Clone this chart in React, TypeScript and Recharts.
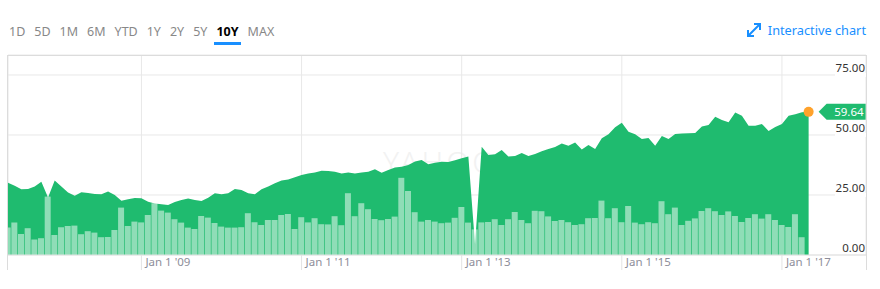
import { Area, Bar, CartesianGrid, ComposedChart, ReferenceDot, XAxis, YAxis } from 'recharts'

const ranges = ['1D', '5D', '1M', '6M', 'YTD', '1Y', '2Y', '5Y', '10Y', 'MAX']
const activeRange = '10Y'

// monthly points, first one is May 2007
const firstYear = 2007
const firstMonth = 4

const closes = [
  30.1, 28.9, 27.4, 27.5, 28.5, 30.5, 24.0, 31.0, 28.5, 26.0,
  24.7, 26.1, 25.8, 25.4, 25.3, 26.5, 25.0, 22.6, 23.2, 23.8,
  23.6, 22.2, 21.5, 21.1, 20.8, 22.1, 22.9, 23.5, 22.9, 22.5,
  23.9, 25.7, 25.3, 25.7, 27.5, 27.1, 25.7, 25.3, 27.4, 28.5,
  29.9, 31.0, 31.5, 32.4, 33.3, 34.0, 34.4, 35.1, 35.0, 34.7,
  34.0, 34.4, 34.0, 34.4, 34.7, 35.7, 34.3, 35.4, 36.5, 36.8,
  37.5, 39.0, 39.6, 37.8, 38.4, 38.9, 38.8, 39.5, 40.3, 41.0,
  4.5, 45.1, 41.7, 42.0, 43.8, 41.0, 41.2, 42.5, 41.2, 42.1,
  43.2, 44.2, 45.0, 46.5, 45.5, 46.9, 44.0, 45.8, 44.2, 48.6,
  50.3, 53.2, 55.1, 51.4, 50.3, 48.3, 48.8, 45.5, 49.6, 48.3,
  50.4, 50.6, 50.7, 50.8, 53.5, 54.2, 57.6, 56.3, 55.3, 59.4,
  58.0, 53.9, 53.9, 54.6, 51.7, 53.3, 54.6, 58.0, 58.6, 59.5,
  59.64,
]

// volume in millions of shares
const volumes = [
  13.7, 16.2, 10.5, 13.4, 7.7, 8.4, 29.2, 10.0, 13.9, 14.5,
  14.7, 10.4, 11.9, 11.2, 8.9, 9.0, 12.5, 23.7, 14.5, 16.7,
  16.3, 20.0, 25.9, 22.2, 21.2, 17.9, 16.2, 13.7, 13.0, 19.5,
  18.7, 16.0, 14.2, 13.7, 13.7, 13.9, 20.9, 16.4, 15.0, 17.5,
  17.5, 20.0, 20.5, 13.0, 18.9, 16.3, 18.4, 15.4, 15.3, 19.4,
  14.9, 30.9, 19.4, 25.9, 22.9, 18.0, 17.4, 18.0, 19.2, 38.6,
  32.0, 21.4, 16.7, 17.5, 16.7, 15.9, 16.2, 18.6, 24.0, 16.2,
  12.8, 16.3, 16.5, 17.9, 15.0, 17.9, 21.5, 17.5, 15.9, 22.1,
  21.9, 19.3, 17.0, 17.5, 16.4, 15.0, 15.4, 18.4, 18.5, 27.2,
  18.4, 23.4, 16.4, 24.5, 16.2, 15.4, 16.4, 15.9, 26.9, 20.4,
  23.7, 15.0, 17.1, 18.3, 22.0, 23.4, 21.9, 20.0, 21.8, 19.5,
  16.5, 18.5, 20.4, 18.2, 20.4, 17.5, 15.0, 14.0, 20.4, 8.9,
]

const tickYears = [2009, 2011, 2013, 2015, 2017]
const priceTicks = [0, 25, 50, 75]

const GREEN = '#1fbb6f'
const BLUE = '#188fff'

const monthIndex = (year: number) => (year - firstYear) * 12 - firstMonth
const rows = closes.map((price, i) => ({ i, price, volume: volumes[i] }))
const lastIndex = closes.length - 1
const lastClose = closes[lastIndex]

function DateTick({ x, y, payload }: any) {
  const year = tickYears.find((yr) => monthIndex(yr) === payload.value) ?? 0
  return (
    <g>
      <line x1={x} x2={x} y1={y} y2={y + 15} stroke="#e3e3e3" />
      <text x={x + 4} y={y + 11} fill="#8e8e9a" fontSize={11.5}>
        {`Jan 1 '${String(year).slice(2)}`}
      </text>
    </g>
  )
}

function PriceTick({ x, y, payload }: any) {
  return (
    <g>
      {payload.value > 0 && <rect x={x - 30} y={y - 2} width={31} height={4} fill="#fff" />}
      <text x={x} y={y - 3} textAnchor="end" fill="#333" fontSize={11.5}>
        {payload.value.toFixed(2)}
      </text>
    </g>
  )
}

function LastPrice({ cx, cy }: any) {
  return (
    <g>
      <polygon
        points={`${cx + 10},${cy} ${cx + 18},${cy - 8} ${cx + 57},${cy - 8} ${cx + 57},${cy + 8} ${cx + 18},${cy + 8}`}
        fill={GREEN}
      />
      <text x={cx + 55} y={cy + 4} textAnchor="end" fill="#fff" fontSize={11.5}>
        {lastClose.toFixed(2)}
      </text>
      <circle cx={cx} cy={cy} r={5} fill="#ffa22b" />
    </g>
  )
}

export default function App() {
  return (
    <div
      style={{
        position: 'absolute',
        left: 0,
        top: 0,
        width: 880,
        height: 289,
        overflow: 'hidden',
        background: '#fff',
        fontFamily: '"Noto Sans", sans-serif',
      }}
    >
      <div style={{ position: 'absolute', left: 9, top: 23, display: 'flex', gap: 9, fontSize: 12.5, lineHeight: '18px', color: '#888' }}>
        {ranges.map((r) => (
          <span
            key={r}
            style={{
              position: 'relative',
              color: r === activeRange ? '#000' : undefined,
              fontWeight: r === activeRange ? 700 : 400,
            }}
          >
            {r}
            {r === activeRange && (
              <span style={{ position: 'absolute', left: -2, right: -2, top: 19, height: 3, background: BLUE }} />
            )}
          </span>
        ))}
      </div>

      <div style={{ position: 'absolute', right: 14, top: 21, display: 'flex', alignItems: 'center', gap: 6, fontSize: 12.75, lineHeight: '18px', color: BLUE }}>
        <svg width={16} height={16} viewBox="0 0 16 16">
          <path d="M2.5 13.5 L13.5 2.5 M8 2 H14 V8 M2 8 V14 H8" fill="none" stroke={BLUE} strokeWidth={2} />
        </svg>
        <span>Interactive chart</span>
      </div>

      <div style={{ position: 'absolute', left: 383, top: 141, fontSize: 30, fontWeight: 300, letterSpacing: 3, color: '#f2f2f2' }}>
        YAHOO!
      </div>

      <div style={{ position: 'absolute', left: 0, top: 0 }}>
        <ComposedChart width={880} height={289} data={rows} margin={{ top: 55, right: 14, bottom: 19, left: 8 }}>
          <CartesianGrid yAxisId="price" stroke="#e8e8e8" />
          <XAxis
            dataKey="i"
            type="number"
            domain={[0, 128.6]}
            allowDataOverflow
            ticks={tickYears.map(monthIndex)}
            interval={0}
            height={15}
            tickSize={0}
            tickMargin={0}
            tickLine={false}
            axisLine={{ stroke: '#e3e3e3' }}
            tick={<DateTick />}
          />
          <YAxis
            yAxisId="price"
            orientation="right"
            mirror
            domain={[0, 83.33]}
            allowDataOverflow
            ticks={priceTicks}
            interval={0}
            tickSize={0}
            tickMargin={1}
            axisLine={false}
            tickLine={false}
            tick={<PriceTick />}
          />
          <YAxis yAxisId="vol" hide domain={[0, 100]} />
          <Area
            yAxisId="price"
            dataKey="price"
            type="linear"
            fill={GREEN}
            fillOpacity={1}
            stroke="none"
            dot={false}
            activeDot={false}
            isAnimationActive={false}
          />
          <Bar yAxisId="vol" dataKey="volume" barSize={6} fill="#ffffff" fillOpacity={0.5} isAnimationActive={false} />
          <ReferenceDot yAxisId="price" x={lastIndex} y={lastClose} r={5} shape={LastPrice} />
        </ComposedChart>
      </div>

      <div
        style={{
          position: 'absolute',
          left: 7,
          top: 55,
          width: 860,
          height: 215,
          boxSizing: 'border-box',
          borderTop: '1px solid #dcdcdc',
          borderLeft: '1px solid #dcdcdc',
          borderRight: '1px solid #dcdcdc',
          pointerEvents: 'none',
        }}
      />
    </div>
  )
}
